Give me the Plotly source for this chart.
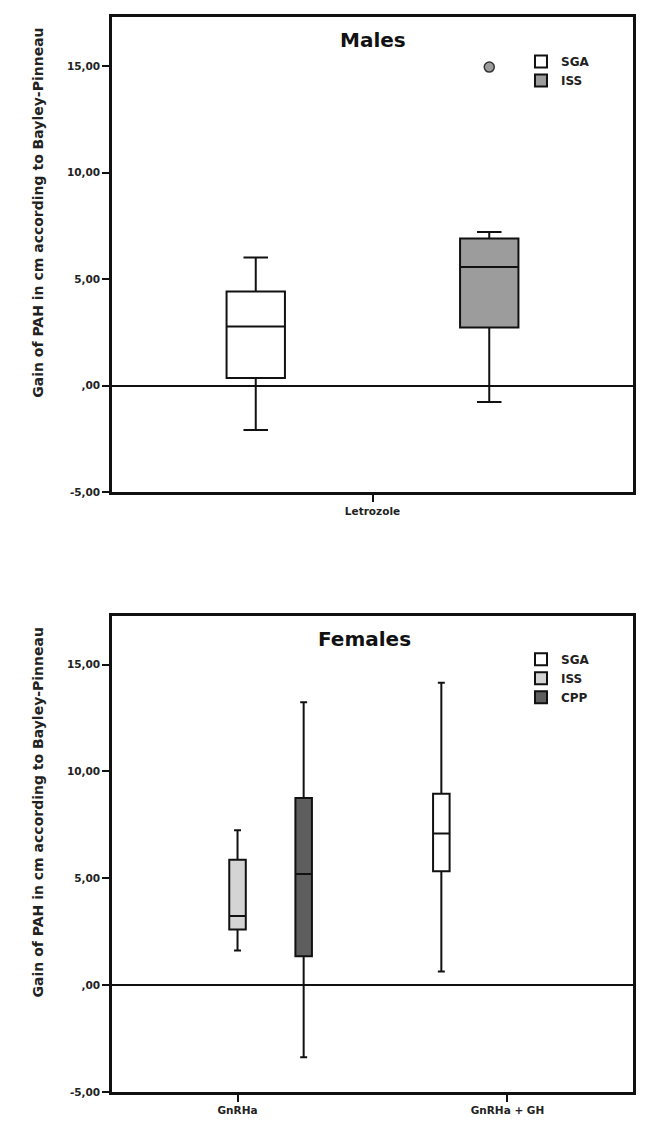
import plotly.graph_objects as go
from plotly.subplots import make_subplots

# ---------------- data ----------------
male_names = ["SGA", "ISS"]
male_x = ["Letrozole", "Letrozole"]
male_lower = [-2.08, -0.77]
male_q1 = [0.36, 2.73]
male_median = [2.78, 5.57]
male_q3 = [4.42, 6.91]
male_upper = [6.01, 7.21]
male_outliers = [[], [14.95]]
male_colors = ["#ffffff", "#9c9c9c"]

female_names = ["SGA", "ISS", "CPP"]
female_x = ["GnRHa + GH", "GnRHa", "GnRHa"]
female_lower = [0.64, 1.62, -3.37]
female_q1 = [5.33, 2.60, 1.35]
female_median = [7.09, 3.24, 5.20]
female_q3 = [8.95, 5.87, 8.76]
female_upper = [14.15, 7.25, 13.24]
female_colors = ["#ffffff", "#d4d4d4", "#5e5e5e"]

female_categories = ["GnRHa", "GnRHa + GH"]
ytick_vals = [-5, 0, 5, 10, 15]
ytick_text = ["-5,00", ",00", "5,00", "10,00", "15,00"]
ytitle = "Gain of PAH in cm according to Bayley-Pinneau"

FONT = "DejaVu Sans, Verdana, sans-serif"

fig = make_subplots(rows=2, cols=1, vertical_spacing=0.0)

for i, name in enumerate(male_names):
    kw = {}
    if male_outliers[i]:
        kw["y"] = [male_outliers[i]]
        kw["boxpoints"] = "outliers"
    else:
        kw["boxpoints"] = False
    fig.add_trace(go.Box(
        name=name, x=[male_x[i]],
        q1=[male_q1[i]], median=[male_median[i]], q3=[male_q3[i]],
        lowerfence=[male_lower[i]], upperfence=[male_upper[i]],
        fillcolor=male_colors[i], line=dict(color="#111111", width=2),
        marker=dict(color="#9c9c9c", size=10, line=dict(color="#333333", width=1.5)),
        whiskerwidth=0.42, offsetgroup=name, alignmentgroup="males",
        legend="legend", legendrank=i, **kw
    ), row=1, col=1)

for i, name in enumerate(female_names):
    fig.add_trace(go.Box(
        name=name, x=[female_x[i]],
        q1=[female_q1[i]], median=[female_median[i]], q3=[female_q3[i]],
        lowerfence=[female_lower[i]], upperfence=[female_upper[i]],
        fillcolor=female_colors[i], line=dict(color="#111111", width=2),
        boxpoints=False, whiskerwidth=0.42,
        offsetgroup=name, alignmentgroup="females",
        legend="legend2", legendrank=i,
    ), row=2, col=1)

axis_common = dict(showline=True, linecolor="#111111", linewidth=2.5, mirror=True,
                   ticks="outside", ticklen=7, tickwidth=2, tickcolor="#111111",
                   showgrid=False,
                   tickfont=dict(family=FONT, size=10.5, color="#222222", weight="bold"))

fig.update_xaxes(**axis_common)
fig.update_yaxes(**axis_common)
fig.update_yaxes(tickvals=ytick_vals, ticktext=ytick_text, zeroline=True,
                 zerolinecolor="#111111", zerolinewidth=2)
fig.update_xaxes(range=[-0.41, 0.41], row=1, col=1)
fig.update_xaxes(range=[-0.465, 1.465], categoryorder="array",
                 categoryarray=female_categories, row=2, col=1)
fig.update_yaxes(range=[-5, 17.3], domain=[0.558, 1.0], row=1, col=1)
fig.update_yaxes(range=[-5, 17.25], domain=[0.0, 0.4424], row=2, col=1)

annotations = [
    dict(text="Males", x=0.5, y=0.952, xref="x domain", yref="y domain",
         xanchor="center", yanchor="middle", showarrow=False,
         font=dict(family=FONT, size=20, color="#111111", weight="bold")),
    dict(text="Females", x=0.484, y=0.953, xref="x2 domain", yref="y2 domain",
         xanchor="center", yanchor="middle", showarrow=False,
         font=dict(family=FONT, size=20, color="#111111", weight="bold")),
    dict(text=ytitle, textangle=-90, x=-0.142, y=0.588, xref="paper", yref="y domain",
         xanchor="center", yanchor="middle", showarrow=False,
         font=dict(family=FONT, size=14, color="#222222", weight="bold")),
    dict(text=ytitle, textangle=-90, x=-0.142, y=0.588, xref="paper", yref="y2 domain",
         xanchor="center", yanchor="middle", showarrow=False,
         font=dict(family=FONT, size=14, color="#222222", weight="bold")),
]

legend_style = dict(bgcolor="rgba(0,0,0,0)", borderwidth=0, itemwidth=30,
                    font=dict(family=FONT, size=12, color="#222222", weight="bold"),
                    xanchor="left", yanchor="top", tracegroupgap=0)

fig.update_layout(
    width=662, height=1128, autosize=False,
    margin=dict(l=112, r=29, t=17, b=34),
    paper_bgcolor="white", plot_bgcolor="white",
    boxmode="group", boxgap=0.265, boxgroupgap=0.75,
    showlegend=True,
    legend=dict(x=0.785, y=0.972, **legend_style),
    legend2=dict(x=0.785, y=0.416, yref="paper", **legend_style),
    annotations=annotations,
)

fig.write_html("out.html")
